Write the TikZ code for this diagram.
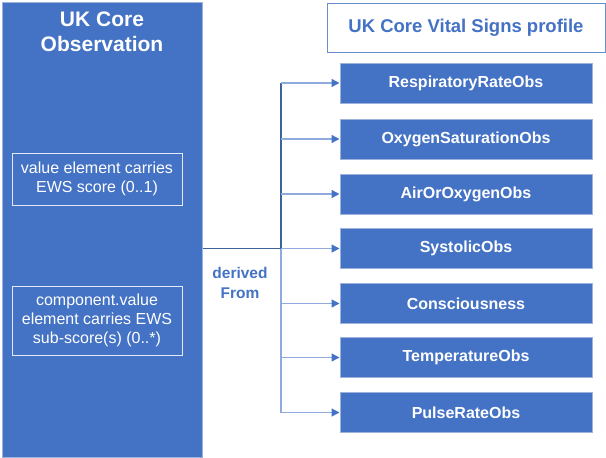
\documentclass[tikz,border=0pt]{standalone}
\usepackage{fontspec}
\setmainfont{Liberation Sans}
\usetikzlibrary{arrows.meta}
\definecolor{mainblue}{HTML}{4472C4}
\definecolor{edgeblue}{HTML}{9DB3DD}
\definecolor{darkline}{HTML}{3E6397}
\definecolor{lightline}{HTML}{8FAADC}
\tikzset{
  bigbox/.style={draw=edgeblue, line width=1pt, fill=mainblue, inner sep=0pt},
  innerbox/.style={draw=white!85!mainblue, line width=1pt, text=white, align=center,
    font=\fontsize{16}{19}\selectfont, inner sep=0pt},
  obsbox/.style={draw=edgeblue, line width=1pt, fill=mainblue, text=white,
    minimum width=252pt, minimum height=40pt, inner sep=0pt,
    font=\bfseries\fontsize{16}{19}\selectfont},
  darkconn/.style={draw=darkline, line width=1.3pt},
  lightconn/.style={draw=lightline, line width=1.3pt},
  arrowconn/.style={lightconn, -{Triangle[length=8pt,width=8pt,fill=mainblue,color=mainblue]}}
}
\begin{document}
\begin{tikzpicture}[x=1pt,y=-1pt]
\useasboundingbox (0,0) rectangle (606,458);
% left big box
\node[bigbox, minimum width=200.5pt, minimum height=455pt, anchor=north west] (L) at (1.5,1.5) {};
\node[text=white, align=center, font=\bfseries\fontsize{21}{25}\selectfont] (Ltitle) at (102,32) {UK Core\\Observation};
\node[innerbox, minimum width=170pt, minimum height=52pt] (v1) at (97,179) {value element carries\\EWS score (0..1)};
\node[innerbox, minimum width=170pt, minimum height=69pt] (v2) at (97,320.5) {component.value\\element carries EWS\\sub-score(s) (0..*)};
% title box
\node[draw=mainblue!80, line width=1pt, fill=white, minimum width=278pt, minimum height=49pt,
  text=mainblue, font=\bfseries\fontsize{18.5}{22}\selectfont, inner sep=0pt] (T) at (466,27.5) {UK Core Vital Signs profile};
% right boxes
\node[obsbox] (S1) at (466,83) {RespiratoryRateObs};
\node[obsbox] (S2) at (466,139) {OxygenSaturationObs};
\node[obsbox] (S3) at (466,194) {AirOrOxygenObs};
\node[obsbox] (S4) at (466,248.5) {SystolicObs};
\node[obsbox] (S5) at (466,303.5) {Consciousness};
\node[obsbox] (S6) at (466,357.5) {TemperatureObs};
\node[obsbox] (S7) at (466,412.5) {PulseRateObs};
% connectors
\coordinate (src) at (L.east |- S4.west);
\coordinate (j) at (281,248.5);
\draw[darkconn] (src) -- (j);
\draw[darkconn] (j) -- (j |- S1.west);
\draw[lightconn] (j) -- (j |- S7.west);
\foreach \s in {S1,S2,S3,S4,S5,S6,S7}{
  \draw[arrowconn] (j |- \s.west) -- (\s.west);
}
\node[text=mainblue, align=center, font=\bfseries\fontsize{15.5}{20}\selectfont] (lbl) at (240,283) {derived\\From};
\end{tikzpicture}
\end{document}
